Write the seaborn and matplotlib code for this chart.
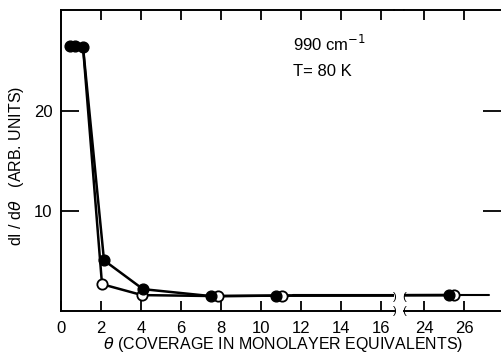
import matplotlib
matplotlib.use("Agg")
import matplotlib.pyplot as plt
from matplotlib.lines import Line2D
import seaborn as sns
import pandas as pd

# ---- data ----
theta_filled = [0.45, 0.7, 1.1, 2.15, 4.1, 7.5, 10.75, 25.25]
dI_filled = [26.6, 26.6, 26.5, 5.0, 2.1, 1.4, 1.45, 1.5]
theta_open = [1.1, 2.05, 4.05, 7.85, 11.05, 25.5]
dI_open = [26.5, 2.6, 1.5, 1.4, 1.45, 1.5]
theta_tail_left = [11.6, 16.6]
dI_tail_left = [1.5, 1.5]
theta_tail_right = [23.0, 24.95, 25.8, 27.25]
dI_tail_right = [1.5, 1.5, 1.5, 1.5]
xticks_left = [0, 2, 4, 6, 8, 10, 12, 14, 16]
xticks_right = [24, 26]
yticks = [10, 20]
ylabel = "dI / d$\\theta$   (ARB. UNITS)"
xlabel = "$\\theta$ (COVERAGE IN MONOLAYER EQUIVALENTS)"

sns.set_style("white")
plt.rcParams["font.family"] = ["Liberation Sans", "DejaVu Sans"]
plt.rcParams["text.color"] = "black"

W, H = 501, 356
fig = plt.figure(figsize=(W / 100, H / 100), dpi=100)
bot = 1 - 311 / H
top = 1 - 10 / H
axL = fig.add_axes([61 / W, bot, (394 - 61) / W, top - bot])
axR = fig.add_axes([404 / W, bot, (501 - 404) / W, top - bot])

dfF = pd.DataFrame({"t": theta_filled, "v": dI_filled})
dfO = pd.DataFrame({"t": theta_open, "v": dI_open})
dfTL = pd.DataFrame({"t": theta_tail_left, "v": dI_tail_left})
dfTR = pd.DataFrame({"t": theta_tail_right, "v": dI_tail_right})

for ax in (axL, axR):
    sns.lineplot(data=dfF, x="t", y="v", ax=ax, color="black", lw=1.8, sort=False)
    sns.lineplot(data=dfO, x="t", y="v", ax=ax, color="black", lw=1.8, sort=False)
    sns.scatterplot(data=dfO.iloc[1:], x="t", y="v", ax=ax, s=55, facecolor="white",
                    edgecolor="black", linewidth=1.3, zorder=4)
    sns.scatterplot(data=dfF, x="t", y="v", ax=ax, s=60, color="black",
                    edgecolor="black", linewidth=1, zorder=5)

sns.lineplot(data=dfTL, x="t", y="v", ax=axL, color="black", lw=1.5, sort=False)
sns.lineplot(data=dfTR, x="t", y="v", ax=axR, color="black", lw=1.5, sort=False)

axL.set_xlim(0, 16.65)
axR.set_xlim(23.0, 27.85)
axL.set_xticks(xticks_left)
axR.set_xticks(xticks_right)

for ax in (axL, axR):
    ax.set_ylim(-0.1, 30.2)
    ax.set_yticks(yticks)
    ax.set_xlabel("")
    ax.set_ylabel("")
    for s in ax.spines.values():
        s.set_linewidth(1.4)
        s.set_color("black")
    ax.tick_params(axis="x", which="both", direction="in", length=7, width=1.3,
                   top=True, bottom=True, labelsize=12, pad=7, colors="black")
    ax.tick_params(axis="y", direction="in", length=13, width=1.3, labelsize=12, colors="black")

axL.spines["right"].set_visible(False)
axR.spines["left"].set_visible(False)
axR.spines["right"].set_visible(False)
axL.tick_params(axis="y", left=True, right=False, labelleft=True, pad=6)
axR.tick_params(axis="y", left=False, right=True, labelleft=False, labelright=False)

# continuous top frame across the break
fig.add_artist(Line2D([394 / W, 404 / W], [top, top], color="black", lw=1.4))

# break marks
for (xp, ch) in ((395, ")"), (404, "(")):
    for yp in (297, 311):
        fig.text(xp / W, 1 - yp / H, ch, ha="center", va="center", fontsize=8, color="black")

fig.text(283 / W, 1 - 344 / H, xlabel, ha="center", va="center", fontsize=11.5)
fig.text(17 / W, 1 - 166 / H, ylabel, ha="center", va="center", rotation=90, fontsize=11.5)

fig.text(293 / W, 1 - 44 / H, "990 cm$^{-1}$", ha="left", va="center", fontsize=12)
fig.text(293 / W, 1 - 71 / H, "T= 80 K", ha="left", va="center", fontsize=12)

fig.savefig("out.png", dpi=100)
